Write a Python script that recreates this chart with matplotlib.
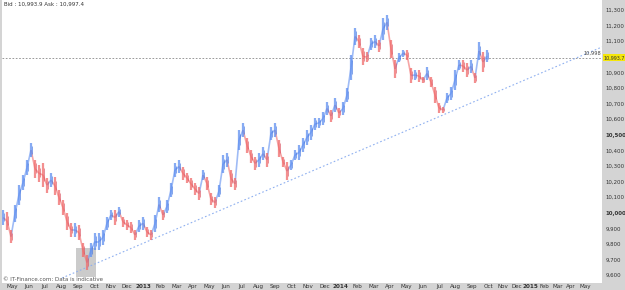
import matplotlib.pyplot as plt
from matplotlib.patches import Rectangle
from matplotlib.collections import LineCollection
from matplotlib.transforms import blended_transform_factory

# weekly high / low (May 2012 - Oct 2014)
highs = [
    10018, 10005, 9890, 10050, 10180, 10240, 10340, 10447, 10340, 10305,
    10320, 10225, 10255, 10230, 10146, 10082, 10000, 9935, 9935, 9920,
    9805, 9730, 9805, 9870, 9870, 9890, 9975, 10018, 10018, 10040,
    9975, 9954, 9940, 9890, 9954, 9975, 9910, 9890, 9985, 10100,
    10018, 10082, 10190, 10320, 10338, 10295, 10255, 10225, 10190, 10165,
    10274, 10230, 10125, 10100, 10180, 10370, 10385, 10274, 10225, 10531,
    10575, 10480, 10403, 10360, 10385, 10420, 10385, 10550, 10575, 10467,
    10360, 10325, 10338, 10403, 10435, 10480, 10531, 10563, 10608, 10608,
    10646, 10710, 10659, 10736, 10672, 10710, 10800, 11010, 11185, 11140,
    11056, 11030, 11120, 11140, 11108, 11250, 11270, 11108, 10980, 11025,
    11044, 11044, 10928, 10915, 10915, 10870, 10935, 10870, 10806, 10704,
    10678, 10768, 10806, 10915, 10980, 10980, 10960, 10980, 10896, 11095,
    11030, 11044,
]
lows = [
    9922, 9890, 9805, 9940, 10050, 10146, 10240, 10357, 10225, 10200,
    10165, 10130, 10165, 10115, 10050, 9985, 9890, 9845, 9845, 9826,
    9715, 9633, 9715, 9762, 9762, 9795, 9890, 9954, 9922, 9975,
    9910, 9890, 9870, 9826, 9875, 9890, 9845, 9826, 9875, 10005,
    9954, 9998, 10100, 10230, 10255, 10210, 10190, 10146, 10115, 10082,
    10210, 10146, 10050, 10030, 10100, 10255, 10295, 10165, 10146, 10403,
    10485, 10385, 10320, 10274, 10295, 10338, 10295, 10467, 10485, 10357,
    10295, 10210, 10274, 10338, 10338, 10390, 10435, 10467, 10531, 10544,
    10563, 10627, 10582, 10646, 10608, 10627, 10710, 10850, 11075, 11056,
    10947, 10966, 11044, 11056, 11030, 11108, 11172, 10992, 10865, 10966,
    11000, 10980, 10832, 10851, 10838, 10832, 10851, 10806, 10704, 10640,
    10640, 10704, 10723, 10787, 10915, 10903, 10870, 10896, 10832, 10980,
    10903, 10966,
]

months = ['May', 'Jun', 'Jul', 'Aug', 'Sep', 'Oct', 'Nov', 'Dec', '2013',
          'Feb', 'Mar', 'Apr', 'May', 'Jun', 'Jul', 'Aug', 'Sep', 'Oct', 'Nov', 'Dec', '2014',
          'Feb', 'Mar', 'Apr', 'May', 'Jun', 'Jul', 'Aug', 'Sep', 'Oct', 'Nov', 'Dec', '2015',
          'Feb', 'Mar', 'Apr', 'May']

last_price = 10993.7
line_label = '10,998'
trend_start = (14.75, 9582)
trend_end = (149.75, 11063)
box_range = (18.25, 23.25, 9590, 9775)

BLUE = '#5f8ff0'
RED = '#f06a6a'

fig = plt.figure(figsize=(6.25, 2.9), dpi=100, facecolor='#d4d4d4')
ax = fig.add_axes([2 / 625, 7 / 290, 600 / 625, 283 / 290])
ax.set_facecolor('white')

# grey highlight box
ax.add_patch(Rectangle((box_range[0], box_range[2]), box_range[1] - box_range[0],
                       box_range[3] - box_range[2], facecolor='#cbcbcb', edgecolor='none', zorder=1))

# bars + connectors between weekly mids
mids = [(h + l) / 2 for h, l in zip(highs, lows)]
segs, seg_cols, bar_cols = [], [], []
for i in range(len(highs)):
    up = i == 0 or mids[i] >= mids[i - 1]
    bar_cols.append(BLUE if up else RED)
    if i > 0:
        segs.append([(i - 1, mids[i - 1]), (i, mids[i])])
        seg_cols.append(BLUE if up else RED)

ax.add_collection(LineCollection(segs, colors=seg_cols, linewidths=1.2, alpha=0.6, zorder=3))
ax.vlines(range(len(highs)), lows, highs, colors=bar_cols, linewidth=1.6, alpha=0.75, zorder=4)
# thin darker ticks inside the bars
ax.vlines([i + 0.25 for i in range(len(highs))], [l + (h - l) * 0.25 for h, l in zip(highs, lows)],
          [h - (h - l) * 0.2 for h, l in zip(highs, lows)],
          colors=['#3a6fe0' if c == BLUE else '#d94a5a' for c in bar_cols],
          linewidth=0.6, alpha=0.7, zorder=5)

# last price line and trendline
ax.axhline(last_price, color='#888888', linestyle=(0, (2, 2)), linewidth=0.6, zorder=2)
ax.plot([trend_start[0], trend_end[0]], [trend_start[1], trend_end[1]],
        color='#8fb0f0', linestyle=(0, (1.5, 2)), linewidth=0.8, zorder=2)

ax.set_xlim(-0.25, 149.75)
ax.set_ylim(9550, 11364)

# right axis labels (11,000 sits under the yellow price box)
ax.yaxis.tick_right()
yt = [v for v in range(9600, 11400, 100) if v != 11000]
ax.set_yticks(yt)
ax.set_yticklabels([f'{v:,}' for v in yt], fontsize=3.9, color='#333333')
for lbl, v in zip(ax.get_yticklabels(), yt):
    if v % 500 == 0:
        lbl.set_fontweight('bold')
ax.tick_params(axis='y', length=0, pad=2.5)

# month ticks: data period then compressed future period
pos = []
for m in range(len(months)):
    if m <= 29:
        pos.append(2.25 + 4.11 * m)
    else:
        pos.append(121.5 + 3.43 * (m - 29))
ax.set_xticks(pos)
ax.set_xticklabels(months, fontsize=4.1, color='#333333')
for lbl in ax.get_xticklabels():
    if lbl.get_text().isdigit():
        lbl.set_fontweight('bold')
ax.tick_params(axis='x', length=0, pad=1)

for s in ax.spines.values():
    s.set_visible(False)

# yellow current price box
tr = blended_transform_factory(ax.transAxes, ax.transData)
ax.text(1.003, last_price, f'{last_price:,.1f}', transform=tr, fontsize=3.5, ha='left', va='center',
        color='#333333', bbox=dict(boxstyle='square,pad=0.25', facecolor='#f5e60a', edgecolor='none'),
        clip_on=False, zorder=10)
ax.text(0.998, last_price + 12, line_label, transform=tr, fontsize=3.6, ha='right', va='bottom',
        color='#444444')

ax.text(0.004, 0.995, 'Bid : 10,993.9 Ask : 10,997.4', transform=ax.transAxes, fontsize=4,
        ha='left', va='top', color='#333333')
ax.text(0.002, 0.005, '\u00a9 IT-Finance.com: Data is indicative', transform=ax.transAxes,
        fontsize=4, ha='left', va='bottom', color='#555555')

fig.savefig('out.png', dpi=100, facecolor=fig.get_facecolor())
